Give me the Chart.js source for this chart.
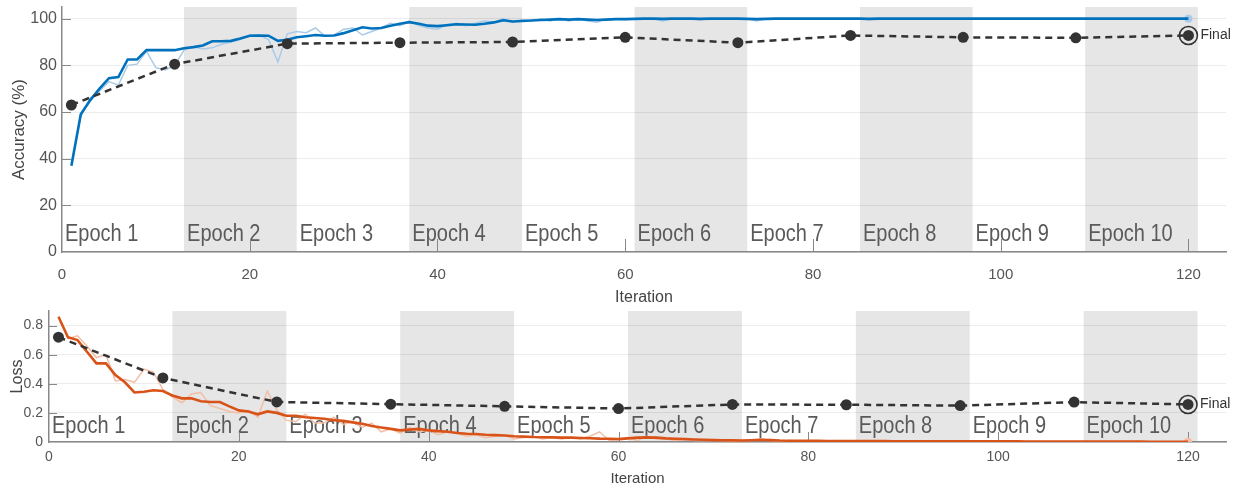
<!DOCTYPE html>
<html><head><meta charset="utf-8">
<script src="https://cdn.jsdelivr.net/npm/chart.js@4.4.0/dist/chart.umd.min.js"></script>
<style>
html,body{margin:0;padding:0;background:#fff;width:1239px;height:489px;overflow:hidden}
#top{position:absolute;left:0;top:0;width:1239px;height:310px}
#bot{position:absolute;left:0;top:300px;width:1239px;height:189px}
</style></head><body>
<div id="top"><canvas id="c1" width="1239" height="310"></canvas></div>
<div id="bot"><canvas id="c2" width="1239" height="189"></canvas></div>
<script>
// ---- data ----
const trainAccSmooth = [
 37,59,65,70,74.5,75,82.5,82.5,86.5,86.5,
 86.5,86.5,87.3,87.8,88.5,90.3,90.3,90.5,91.5,92.7,
 92.8,92.7,90.5,91,92,92.5,93,92.7,92.8,93.8,
 95,96.3,95.8,96,97,97.8,98.5,97.8,97,96.8,
 97.2,97.6,97.5,97.4,97.8,98.4,99.3,98.8,99,99.2,
 99.4,99.6,99.8,99.6,99.8,99.6,99.4,99.6,99.8,99.8,
 99.9,100,100,99.9,100,100,100,99.9,100,100,
 100,100,99.9,99.8,99.9,100,100,100,100,100,
 100,100,100,100,100,99.9,100,100,100,100,
 100,100,100,100,100,100,100,100,100,100,
 100,100,100,100,100,100,100,100,100,100,
 100,100,100,100,100,100,100,100,100,100];
const trainAccRaw = [
 37,58,66,69,73,71.5,80,80.5,86,79,
 78,80,86.5,88,87,87.5,89,90,91,93,
 93,91,81.5,93.5,94.5,94,96,92.5,93,95.5,
 96,93,94.5,96,98,97,99,97,96,95.5,
 97.5,98,97,98,99,98.5,100,98.5,99.5,99,
 100,99,100,99,100,99,98.5,100,100,99.5,
 100,100,100,99,100,100,100,99.5,100,100,
 100,100,100,99,100,100,100,100,100,100,
 100,100,100,100,100,99.5,100,100,100,100,
 100,100,100,100,100,100,100,100,100,100,
 100,100,100,100,100,100,100,100,100,100,
 100,100,100,100,100,100,100,100,100,100];
const trainLossSmooth = [
 0.86,0.72,0.70,0.62,0.54,0.54,0.46,0.41,0.34,0.345,
 0.355,0.35,0.32,0.30,0.30,0.28,0.275,0.275,0.245,0.217,
 0.21,0.19,0.21,0.20,0.18,0.18,0.17,0.165,0.16,0.15,
 0.145,0.135,0.126,0.11,0.10,0.09,0.08,0.085,0.09,0.08,
 0.075,0.07,0.062,0.057,0.055,0.05,0.047,0.045,0.04,0.037,
 0.034,0.033,0.032,0.03,0.03,0.028,0.026,0.023,0.022,0.02,
 0.025,0.03,0.032,0.03,0.025,0.022,0.02,0.017,0.015,0.013,
 0.012,0.011,0.01,0.012,0.015,0.013,0.01,0.009,0.008,0.008,
 0.008,0.007,0.007,0.007,0.006,0.006,0.006,0.006,0.005,0.005,
 0.005,0.005,0.005,0.005,0.004,0.004,0.004,0.004,0.004,0.004,
 0.004,0.004,0.003,0.003,0.003,0.003,0.003,0.003,0.003,0.003,
 0.003,0.003,0.003,0.003,0.003,0.002,0.002,0.002,0.002,0.002];
const trainLossRaw = [
 0.86,0.71,0.73,0.66,0.58,0.60,0.42,0.43,0.41,0.50,
 0.48,0.36,0.31,0.27,0.33,0.34,0.25,0.23,0.21,0.20,
 0.22,0.17,0.35,0.22,0.15,0.14,0.19,0.13,0.13,0.17,
 0.12,0.14,0.10,0.13,0.07,0.09,0.06,0.10,0.07,0.08,
 0.05,0.07,0.06,0.04,0.05,0.03,0.04,0.05,0.02,0.03,
 0.04,0.02,0.03,0.02,0.03,0.02,0.04,0.07,0.01,0.02,
 0.03,0.01,0.04,0.02,0.02,0.01,0.02,0.01,0.01,0.01,
 0.01,0.005,0.01,0.01,0.02,0.01,0.005,0.01,0.005,0.005,
 0.005,0.005,0.003,0.005,0.003,0.005,0.003,0.003,0.005,0.003,
 0.003,0.003,0.002,0.003,0.003,0.002,0.003,0.002,0.002,0.003,
 0.002,0.002,0.002,0.003,0.002,0.002,0.002,0.002,0.002,0.002,
 0.002,0.002,0.001,0.002,0.002,0.001,0.001,0.001,0.001,0.001];
const valIter = [1,12,24,36,48,60,72,84,96,108,120];
const valAcc  = [63,80.5,89.3,89.7,90,92,89.7,92.8,92,91.8,92.8];
const valLoss = [0.72,0.44,0.275,0.26,0.245,0.23,0.258,0.256,0.25,0.274,0.258];
const epochBounds = [1,13,25,37,49,61,73,85,97,109,121];
const epochLabels = ['Epoch 1','Epoch 2','Epoch 3','Epoch 4','Epoch 5','Epoch 6','Epoch 7','Epoch 8','Epoch 9','Epoch 10'];
const xTicks = [0,20,40,60,80,100,120];
const accTicks = [0,20,40,60,80,100];
const lossTicks = [0,0.2,0.4,0.6,0.8];

// ---- rendering ----
const FAM = "'Liberation Sans', Arial, Helvetica, sans-serif";
Chart.defaults.font.family = FAM;
Chart.defaults.color = '#555';

const deco = {
  id: 'deco',
  beforeDraw(chart, args, o) {
    const {ctx, chartArea: a, scales: {x}} = chart;
    ctx.save();
    ctx.fillStyle = '#e6e6e6';
    for (let k = 1; k < epochBounds.length - 1; k += 2) {
      const x0 = x.getPixelForValue(epochBounds[k]);
      const x1 = x.getPixelForValue(epochBounds[k + 1]);
      ctx.fillRect(x0, a.top, x1 - x0, a.bottom - a.top);
    }
    ctx.restore();
  },
  beforeDatasetsDraw(chart, args, o) {
    const {ctx, chartArea: a, scales: {x, y}} = chart;
    ctx.save();
    ctx.fillStyle = '#5a5a5a';
    ctx.font = o.epochFont + 'px ' + FAM;
    ctx.textBaseline = 'alphabetic';
    ctx.textAlign = 'left';
    epochLabels.forEach((lab, i) => {
      const px = i === 0 ? a.left + 3 : x.getPixelForValue(epochBounds[i]) + 3;
      ctx.save();
      ctx.translate(px, a.bottom - o.labelOffset);
      ctx.scale(0.87, 1);
      ctx.fillText(lab, 0, 0);
      ctx.restore();
    });
    ctx.strokeStyle = '#888';
    ctx.lineWidth = 1;
    ctx.beginPath();
    xTicks.forEach(v => {
      if (v === 0) return;
      const px = Math.round(x.getPixelForValue(v)) + 0.5;
      ctx.moveTo(px, a.bottom); ctx.lineTo(px, a.bottom - o.tickX);
    });
    o.yTicks.forEach(v => {
      if (v === 0) return;
      const py = Math.round(y.getPixelForValue(v)) + 0.5;
      ctx.moveTo(a.left, py); ctx.lineTo(a.left + o.tickY, py);
    });
    ctx.stroke();
    ctx.restore();
  },
  afterDatasetsDraw(chart, args, o) {
    const {ctx, scales: {x, y}} = chart;
    const n = valIter.length - 1;
    const px = x.getPixelForValue(valIter[n]);
    const py = y.getPixelForValue(o.vals[n]);
    ctx.save();
    ctx.fillStyle = '#333';
    ctx.font = '14px ' + FAM;
    ctx.textBaseline = 'middle';
    ctx.textAlign = 'left';
    ctx.fillText('Final', px + 12, py);
    ctx.restore();
  }
};

function pts(arr) { return arr.map((v, i) => ({x: i + 1, y: v})); }
function vpts(arr) { return arr.map((v, i) => ({x: valIter[i], y: v})); }

function makeChart(id, cfg) {
  const n = valIter.length - 1;
  const rawLast = cfg.raw[cfg.raw.length - 1];
  return new Chart(document.getElementById(id), {
    type: 'line',
    data: {
      datasets: [
        {data: [{x: valIter[n], y: cfg.val[n]}], showLine: false, pointRadius: 9,
         pointBorderWidth: 1.6, pointBorderColor: '#333', pointBackgroundColor: 'rgba(0,0,0,0)', order: 0},
        {data: vpts(cfg.val), borderColor: '#333', borderWidth: 2.5, borderDash: [7, 5],
         pointRadius: 5.5, pointBackgroundColor: '#333', pointBorderWidth: 0, order: 1},
        {data: pts(cfg.smooth), borderColor: cfg.color, borderWidth: 2.6, pointRadius: 0, order: 2},
        {data: [{x: cfg.raw.length, y: rawLast}], showLine: false, pointRadius: 4,
         pointBackgroundColor: cfg.light, pointBorderWidth: 0, order: 3},
        {data: pts(cfg.raw), borderColor: cfg.light, borderWidth: 1.5, pointRadius: 0, order: 4}
      ]
    },
    options: {
      responsive: false, animation: false, devicePixelRatio: 1,
      layout: {autoPadding: false, padding: {left: 0, right: 13, top: cfg.padTop, bottom: 0}},
      plugins: {legend: {display: false}, tooltip: {enabled: false},
        deco: {epochFont: 23, labelOffset: cfg.labelOffset, tickX: cfg.tickX, tickY: cfg.tickY,
               yTicks: cfg.yTicks, vals: cfg.val}},
      elements: {line: {tension: 0}},
      scales: {
        x: {type: 'linear', min: 0, max: 124,
          afterBuildTicks: s => { s.ticks = xTicks.map(v => ({value: v})); },
          afterFit: s => { s.height = cfg.xHeight; s.paddingLeft = 0; s.paddingRight = 0; },
          grid: {display: false, drawTicks: false},
          border: {display: true, color: '#888', width: 1.5},
          ticks: {font: {size: cfg.xTickSize}, color: '#555', padding: cfg.xTickPad, maxRotation: 0, autoSkip: false},
          title: {display: true, text: 'Iteration', color: '#444', font: {size: cfg.xTitleSize},
                  padding: {top: 0, bottom: cfg.xTitlePad}}
        },
        y: {type: 'linear', min: 0, max: cfg.yMax,
          afterBuildTicks: s => { s.ticks = cfg.yTicks.map(v => ({value: v})); },
          afterFit: s => { s.width = cfg.yWidth; s.paddingTop = 0; s.paddingBottom = 0; },
          grid: {color: 'rgba(0,0,0,0.075)', drawTicks: false, lineWidth: 1},
          border: {display: true, color: '#888', width: 1.5},
          ticks: {font: {size: cfg.yTickSize}, color: '#555', padding: cfg.yTickPad},
          title: {display: true, text: cfg.yTitle, color: '#444', font: {size: cfg.yTitleSize},
                  padding: {top: cfg.yTitlePad, bottom: 0}}
        }
      }
    },
    plugins: [deco]
  });
}

makeChart('c1', {
  smooth: trainAccSmooth, raw: trainAccRaw, val: valAcc,
  color: '#0072BD', light: '#a9cbe8',
  padTop: 7, xHeight: 58, yWidth: 62, yMax: 105, yTicks: accTicks,
  labelOffset: 11, tickX: 13, tickY: 9,
  xTickSize: 15, xTickPad: 14, xTitleSize: 16, xTitlePad: 3,
  yTickSize: 16, yTickPad: 5, yTitle: 'Accuracy (%)', yTitleSize: 17, yTitlePad: 9
});
makeChart('c2', {
  smooth: trainLossSmooth, raw: trainLossRaw, val: valLoss,
  color: '#D95319', light: '#f3bea6',
  padTop: 11, xHeight: 47, yWidth: 49, yMax: 0.9, yTicks: lossTicks,
  labelOffset: 9, tickX: 10, tickY: 8,
  xTickSize: 14, xTickPad: 7, xTitleSize: 15, xTitlePad: 1,
  yTickSize: 14, yTickPad: 6, yTitle: 'Loss', yTitleSize: 16, yTitlePad: 8
});
</script>
</body></html>
